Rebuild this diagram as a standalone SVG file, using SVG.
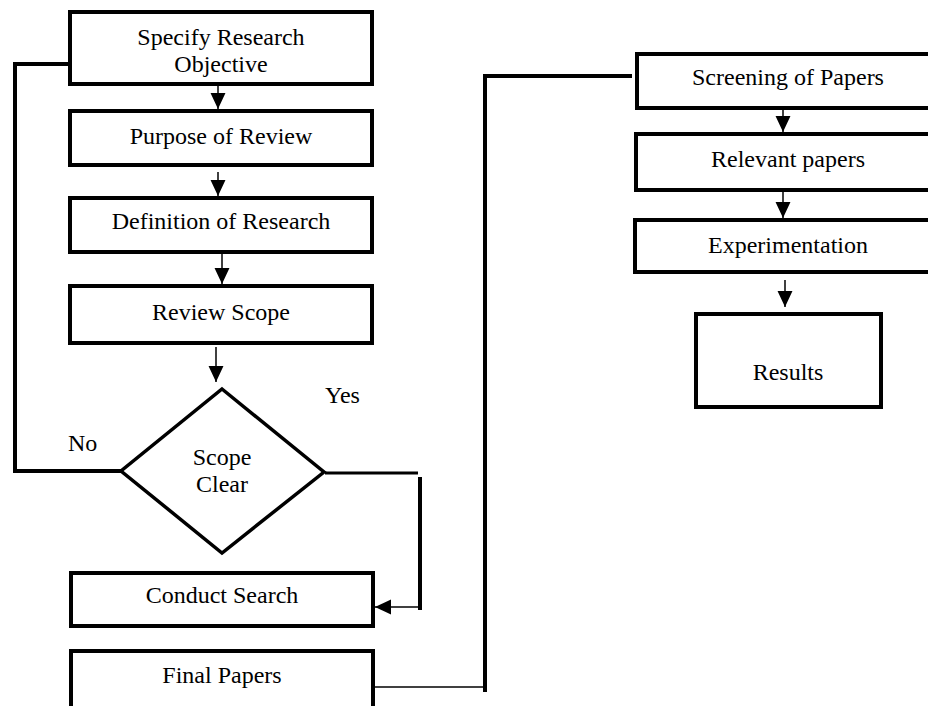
<svg xmlns="http://www.w3.org/2000/svg" width="928" height="706" viewBox="0 0 928 706">
<defs>
<style>
.box{fill:#fff;stroke:#000;stroke-width:4}
.t{font-family:"Liberation Serif","Times New Roman",serif;font-size:24px;fill:#000;text-anchor:middle}
.lbl{font-family:"Liberation Serif","Times New Roman",serif;font-size:24px;fill:#000}
.thin{fill:none;stroke:#000;stroke-width:1.5}
.thick{fill:none;stroke:#000;stroke-width:4}
.mid{fill:none;stroke:#000;stroke-width:3}
</style>
<marker id="ah" markerUnits="userSpaceOnUse" markerWidth="16" markerHeight="16" viewBox="0 0 15 14" refX="15" refY="7" orient="auto">
<path d="M0,0 L15,7 L0,14 Z" fill="#000"/>
</marker>
</defs>
<rect width="928" height="706" fill="#fff"/>
<g id="connectors">
<line class="thin" x1="218" y1="86" x2="218" y2="109" marker-end="url(#ah)"/>
<line class="thin" x1="218" y1="172" x2="218" y2="196" marker-end="url(#ah)"/>
<line class="thin" x1="222" y1="253" x2="222" y2="284" marker-end="url(#ah)"/>
<line class="thin" x1="216" y1="347" x2="216" y2="382" marker-end="url(#ah)"/>
<polyline class="thick" points="68,64 15,64 15,471 121,471"/>
<line class="mid" x1="325" y1="473" x2="418" y2="473"/>
<line class="thick" x1="420" y1="477" x2="420" y2="610"/>
<line class="thin" x1="420" y1="607" x2="375" y2="607" marker-end="url(#ah)"/>
<line class="thin" x1="374" y1="687" x2="485" y2="687"/>
<polyline class="thick" points="485,692 485,76 632,76"/>
<line class="thin" x1="783" y1="110" x2="783" y2="132" marker-end="url(#ah)"/>
<line class="thin" x1="783" y1="192" x2="783" y2="218" marker-end="url(#ah)"/>
<line class="thin" x1="785" y1="280" x2="785" y2="307" marker-end="url(#ah)"/>
</g>
<g id="n1"><rect class="box" x="70" y="12" width="302" height="72"/>
<text class="t" x="221" y="45">Specify Research</text><text class="t" x="221" y="72">Objective</text></g>
<g id="n2"><rect class="box" x="70" y="111" width="302" height="54"/>
<text class="t" x="221" y="144">Purpose of Review</text></g>
<g id="n3"><rect class="box" x="70" y="198" width="302" height="54"/>
<text class="t" x="221" y="229">Definition of Research</text></g>
<g id="n4"><rect class="box" x="70" y="286" width="302" height="57"/>
<text class="t" x="221" y="320">Review Scope</text></g>
<g id="n5"><polygon class="box" points="222,389 324,472 222,553 121,471" style="stroke-width:3.5"/>
<text class="t" x="222" y="465">Scope</text><text class="t" x="222" y="492">Clear</text></g>
<g id="lblYes"><text class="lbl" x="325" y="403">Yes</text></g>
<g id="lblNo"><text class="lbl" x="68" y="451">No</text></g>
<g id="n6"><rect class="box" x="71" y="573" width="302" height="53"/>
<text class="t" x="222" y="603">Conduct Search</text></g>
<g id="n7"><rect class="box" x="71" y="651" width="302" height="70"/>
<text class="t" x="222" y="683">Final Papers</text></g>
<g id="n8"><rect class="box" x="637" y="54" width="320" height="54"/>
<text class="t" x="788" y="85">Screening of Papers</text></g>
<g id="n9"><rect class="box" x="636" y="134" width="320" height="56"/>
<text class="t" x="788" y="167">Relevant papers</text></g>
<g id="n10"><rect class="box" x="635" y="220" width="320" height="52"/>
<text class="t" x="788" y="253">Experimentation</text></g>
<g id="n11"><rect class="box" x="696" y="314" width="185" height="93"/>
<text class="t" x="788" y="380">Results</text></g>
</svg>
